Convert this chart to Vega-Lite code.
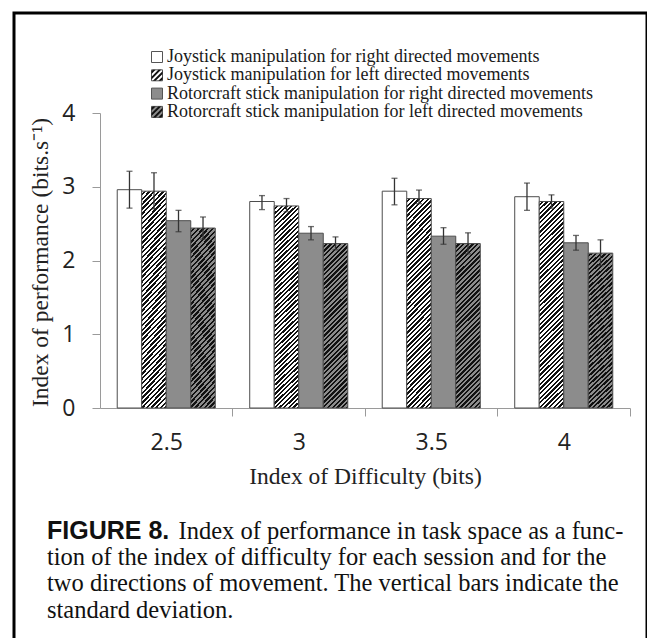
{
  "$schema": "https://vega.github.io/schema/vega-lite/v6.json",
  "usermeta": {"embedOptions": {"actions": false}},
  "autosize": "none",
  "padding": {"left": 14, "top": 13, "right": 0, "bottom": 0},
  "width": 633,
  "height": 627,
  "background": "white",
  "config": {"view": {"stroke": "#000", "strokeWidth": 3}},
  "title": {
    "text": "FIGURE 8.",
    "subtitle": [
      "tion of the index of difficulty for each session and for the",
      "two directions of movement. The vertical bars indicate the",
      "standard deviation."
    ],
    "orient": "bottom",
    "anchor": "start",
    "frame": "group",
    "offset": -121,
    "dx": 33,
    "baseline": "top",
    "font": "Liberation Sans",
    "fontSize": 25,
    "fontWeight": "bold",
    "color": "#111",
    "subtitleFont": "Liberation Serif",
    "subtitleFontSize": 24.5,
    "subtitleFontWeight": "normal",
    "subtitleColor": "#111",
    "subtitleLineHeight": 26.5,
    "subtitlePadding": 1.9
  },
  "data": {
    "values": [
      {"group": "2.5", "series": "Joystick manipulation for right directed movements", "value": 2.96, "lo": 2.71, "hi": 3.21},
      {"group": "2.5", "series": "Joystick manipulation for left directed movements", "value": 2.94, "lo": 2.7, "hi": 3.19},
      {"group": "2.5", "series": "Rotorcraft stick manipulation for right directed movements", "value": 2.54, "lo": 2.39, "hi": 2.68},
      {"group": "2.5", "series": "Rotorcraft stick manipulation for left directed movements", "value": 2.44, "lo": 2.29, "hi": 2.59},
      {"group": "3", "series": "Joystick manipulation for right directed movements", "value": 2.8, "lo": 2.69, "hi": 2.88},
      {"group": "3", "series": "Joystick manipulation for left directed movements", "value": 2.74, "lo": 2.66, "hi": 2.84},
      {"group": "3", "series": "Rotorcraft stick manipulation for right directed movements", "value": 2.37, "lo": 2.28, "hi": 2.46},
      {"group": "3", "series": "Rotorcraft stick manipulation for left directed movements", "value": 2.23, "lo": 2.145, "hi": 2.32},
      {"group": "3.5", "series": "Joystick manipulation for right directed movements", "value": 2.94, "lo": 2.755, "hi": 3.115},
      {"group": "3.5", "series": "Joystick manipulation for left directed movements", "value": 2.84, "lo": 2.77, "hi": 2.955},
      {"group": "3.5", "series": "Rotorcraft stick manipulation for right directed movements", "value": 2.33, "lo": 2.22, "hi": 2.445},
      {"group": "3.5", "series": "Rotorcraft stick manipulation for left directed movements", "value": 2.23, "lo": 2.09, "hi": 2.375},
      {"group": "4", "series": "Joystick manipulation for right directed movements", "value": 2.865, "lo": 2.68, "hi": 3.05},
      {"group": "4", "series": "Joystick manipulation for left directed movements", "value": 2.8, "lo": 2.71, "hi": 2.89},
      {"group": "4", "series": "Rotorcraft stick manipulation for right directed movements", "value": 2.24, "lo": 2.14, "hi": 2.34},
      {"group": "4", "series": "Rotorcraft stick manipulation for left directed movements", "value": 2.1, "lo": 1.93, "hi": 2.28}
    ]
  },
  "resolve": {"scale": {"fill": "independent"}, "legend": {"fill": "independent"}, "axis": {"x": "independent"}},
  "layer": [
    {
      "mark": {"type": "bar", "stroke": "#4d4d4d", "strokeWidth": 1},
      "encoding": {
        "x": {
          "field": "group", "type": "ordinal", "sort": ["2.5", "3", "3.5", "4"],
          "scale": {"range": [86, 616], "paddingInner": 0.26, "paddingOuter": 0.13},
          "axis": {
            "orient": "bottom",
            "title": "Index of Difficulty (bits)",
            "offset": -232,
            "labelAngle": 0,
            "grid": false,
            "domainColor": "#9a9a9a",
            "tickColor": "#9a9a9a",
            "tickSize": 8,
            "bandPosition": 1,
            "tickOffset": 17.2,
            "labelOffset": -17.2,
            "labelFont": "Open Sans",
            "labelFontSize": 23,
            "labelColor": "#222",
            "labelPadding": 15,
            "titleFont": "Liberation Serif",
            "titleFontSize": 23.5,
            "titleFontWeight": "normal",
            "titleColor": "#222",
            "titleX": 351,
            "titleY": 68,
            "titleBaseline": "middle",
            "titleAlign": "center"
          }
        },
        "xOffset": {
          "field": "series", "type": "nominal",
          "sort": ["Joystick manipulation for right directed movements", "Joystick manipulation for left directed movements", "Rotorcraft stick manipulation for right directed movements", "Rotorcraft stick manipulation for left directed movements"],
          "scale": {"paddingInner": 0, "paddingOuter": 0}
        },
        "y": {
          "field": "value", "type": "quantitative",
          "scale": {"domain": [0, 4], "range": [395, 100], "nice": false},
          "axis": {
            "title": "Index of performance (bits.s\u207b\u00b9)",
            "values": [0, 1, 2, 3, 4],
            "format": "d",
            "offset": -86,
            "grid": false,
            "domainColor": "#9a9a9a",
            "tickColor": "#9a9a9a",
            "tickSize": 8,
            "labelFont": "Open Sans",
            "labelFontSize": 23,
            "labelColor": "#222",
            "labelPadding": 17,
            "titleFont": "Liberation Serif",
            "titleFontSize": 23.5,
            "titleFontWeight": "normal",
            "titleColor": "#222",
            "titleAngle": 270,
            "titleX": -60,
            "titleY": 249,
            "titleBaseline": "middle",
            "titleAlign": "center"
          }
        },
        "fill": {
          "field": "series", "type": "nominal",
          "scale": {
            "domain": ["Joystick manipulation for right directed movements", "Joystick manipulation for left directed movements", "Rotorcraft stick manipulation for right directed movements", "Rotorcraft stick manipulation for left directed movements"],
            "range": ["#ffffff", "#ffffff", "#8c8c8c", "#8c8c8c"]
          },
          "legend": {
            "orient": "none",
            "legendX": 134,
            "legendY": 35,
            "title": null,
            "padding": 0,
            "symbolType": "square",
            "symbolSize": 121,
            "symbolStrokeWidth": 1,
            "symbolStrokeColor": "#555",
            "labelFont": "Liberation Serif",
            "labelFontSize": 18,
            "labelColor": "#1a1a1a",
            "labelOffset": 1,
            "labelLimit": 0,
            "rowPadding": 0.3
          },
          "condition": [
            {
              "test": "datum.series === 'Joystick manipulation for left directed movements'",
              "value": {
                "gradient": "linear", "x1": 0, "y1": 0, "x2": 0.1302, "y2": 1.103,
                "stops": [
                  {"offset":0,"color":"#fff"},{"offset":0.01,"color":"#fff"},{"offset":0.01,"color":"#111"},{"offset":0.02,"color":"#111"},
                  {"offset":0.02,"color":"#fff"},{"offset":0.03,"color":"#fff"},{"offset":0.03,"color":"#111"},{"offset":0.04,"color":"#111"},
                  {"offset":0.04,"color":"#fff"},{"offset":0.05,"color":"#fff"},{"offset":0.05,"color":"#111"},{"offset":0.06,"color":"#111"},
                  {"offset":0.06,"color":"#fff"},{"offset":0.07,"color":"#fff"},{"offset":0.07,"color":"#111"},{"offset":0.08,"color":"#111"},
                  {"offset":0.08,"color":"#fff"},{"offset":0.09,"color":"#fff"},{"offset":0.09,"color":"#111"},{"offset":0.1,"color":"#111"},
                  {"offset":0.1,"color":"#fff"},{"offset":0.11,"color":"#fff"},{"offset":0.11,"color":"#111"},{"offset":0.12,"color":"#111"},
                  {"offset":0.12,"color":"#fff"},{"offset":0.13,"color":"#fff"},{"offset":0.13,"color":"#111"},{"offset":0.14,"color":"#111"},
                  {"offset":0.14,"color":"#fff"},{"offset":0.15,"color":"#fff"},{"offset":0.15,"color":"#111"},{"offset":0.16,"color":"#111"},
                  {"offset":0.16,"color":"#fff"},{"offset":0.17,"color":"#fff"},{"offset":0.17,"color":"#111"},{"offset":0.18,"color":"#111"},
                  {"offset":0.18,"color":"#fff"},{"offset":0.19,"color":"#fff"},{"offset":0.19,"color":"#111"},{"offset":0.2,"color":"#111"},
                  {"offset":0.2,"color":"#fff"},{"offset":0.21,"color":"#fff"},{"offset":0.21,"color":"#111"},{"offset":0.22,"color":"#111"},
                  {"offset":0.22,"color":"#fff"},{"offset":0.23,"color":"#fff"},{"offset":0.23,"color":"#111"},{"offset":0.24,"color":"#111"},
                  {"offset":0.24,"color":"#fff"},{"offset":0.25,"color":"#fff"},{"offset":0.25,"color":"#111"},{"offset":0.26,"color":"#111"},
                  {"offset":0.26,"color":"#fff"},{"offset":0.27,"color":"#fff"},{"offset":0.27,"color":"#111"},{"offset":0.28,"color":"#111"},
                  {"offset":0.28,"color":"#fff"},{"offset":0.29,"color":"#fff"},{"offset":0.29,"color":"#111"},{"offset":0.3,"color":"#111"},
                  {"offset":0.3,"color":"#fff"},{"offset":0.31,"color":"#fff"},{"offset":0.31,"color":"#111"},{"offset":0.32,"color":"#111"},
                  {"offset":0.32,"color":"#fff"},{"offset":0.33,"color":"#fff"},{"offset":0.33,"color":"#111"},{"offset":0.34,"color":"#111"},
                  {"offset":0.34,"color":"#fff"},{"offset":0.35,"color":"#fff"},{"offset":0.35,"color":"#111"},{"offset":0.36,"color":"#111"},
                  {"offset":0.36,"color":"#fff"},{"offset":0.37,"color":"#fff"},{"offset":0.37,"color":"#111"},{"offset":0.38,"color":"#111"},
                  {"offset":0.38,"color":"#fff"},{"offset":0.39,"color":"#fff"},{"offset":0.39,"color":"#111"},{"offset":0.4,"color":"#111"},
                  {"offset":0.4,"color":"#fff"},{"offset":0.41,"color":"#fff"},{"offset":0.41,"color":"#111"},{"offset":0.42,"color":"#111"},
                  {"offset":0.42,"color":"#fff"},{"offset":0.43,"color":"#fff"},{"offset":0.43,"color":"#111"},{"offset":0.44,"color":"#111"},
                  {"offset":0.44,"color":"#fff"},{"offset":0.45,"color":"#fff"},{"offset":0.45,"color":"#111"},{"offset":0.46,"color":"#111"},
                  {"offset":0.46,"color":"#fff"},{"offset":0.47,"color":"#fff"},{"offset":0.47,"color":"#111"},{"offset":0.48,"color":"#111"},
                  {"offset":0.48,"color":"#fff"},{"offset":0.49,"color":"#fff"},{"offset":0.49,"color":"#111"},{"offset":0.5,"color":"#111"},
                  {"offset":0.5,"color":"#fff"},{"offset":0.51,"color":"#fff"},{"offset":0.51,"color":"#111"},{"offset":0.52,"color":"#111"},
                  {"offset":0.52,"color":"#fff"},{"offset":0.53,"color":"#fff"},{"offset":0.53,"color":"#111"},{"offset":0.54,"color":"#111"},
                  {"offset":0.54,"color":"#fff"},{"offset":0.55,"color":"#fff"},{"offset":0.55,"color":"#111"},{"offset":0.56,"color":"#111"},
                  {"offset":0.56,"color":"#fff"},{"offset":0.57,"color":"#fff"},{"offset":0.57,"color":"#111"},{"offset":0.58,"color":"#111"},
                  {"offset":0.58,"color":"#fff"},{"offset":0.59,"color":"#fff"},{"offset":0.59,"color":"#111"},{"offset":0.6,"color":"#111"},
                  {"offset":0.6,"color":"#fff"},{"offset":0.61,"color":"#fff"},{"offset":0.61,"color":"#111"},{"offset":0.62,"color":"#111"},
                  {"offset":0.62,"color":"#fff"},{"offset":0.63,"color":"#fff"},{"offset":0.63,"color":"#111"},{"offset":0.64,"color":"#111"},
                  {"offset":0.64,"color":"#fff"},{"offset":0.65,"color":"#fff"},{"offset":0.65,"color":"#111"},{"offset":0.66,"color":"#111"},
                  {"offset":0.66,"color":"#fff"},{"offset":0.67,"color":"#fff"},{"offset":0.67,"color":"#111"},{"offset":0.68,"color":"#111"},
                  {"offset":0.68,"color":"#fff"},{"offset":0.69,"color":"#fff"},{"offset":0.69,"color":"#111"},{"offset":0.7,"color":"#111"},
                  {"offset":0.7,"color":"#fff"},{"offset":0.71,"color":"#fff"},{"offset":0.71,"color":"#111"},{"offset":0.72,"color":"#111"},
                  {"offset":0.72,"color":"#fff"},{"offset":0.73,"color":"#fff"},{"offset":0.73,"color":"#111"},{"offset":0.74,"color":"#111"},
                  {"offset":0.74,"color":"#fff"},{"offset":0.75,"color":"#fff"},{"offset":0.75,"color":"#111"},{"offset":0.76,"color":"#111"},
                  {"offset":0.76,"color":"#fff"},{"offset":0.77,"color":"#fff"},{"offset":0.77,"color":"#111"},{"offset":0.78,"color":"#111"},
                  {"offset":0.78,"color":"#fff"},{"offset":0.79,"color":"#fff"},{"offset":0.79,"color":"#111"},{"offset":0.8,"color":"#111"},
                  {"offset":0.8,"color":"#fff"},{"offset":0.81,"color":"#fff"},{"offset":0.81,"color":"#111"},{"offset":0.82,"color":"#111"},
                  {"offset":0.82,"color":"#fff"},{"offset":0.83,"color":"#fff"},{"offset":0.83,"color":"#111"},{"offset":0.84,"color":"#111"},
                  {"offset":0.84,"color":"#fff"},{"offset":0.85,"color":"#fff"},{"offset":0.85,"color":"#111"},{"offset":0.86,"color":"#111"},
                  {"offset":0.86,"color":"#fff"},{"offset":0.87,"color":"#fff"},{"offset":0.87,"color":"#111"},{"offset":0.88,"color":"#111"},
                  {"offset":0.88,"color":"#fff"},{"offset":0.89,"color":"#fff"},{"offset":0.89,"color":"#111"},{"offset":0.9,"color":"#111"},
                  {"offset":0.9,"color":"#fff"},{"offset":0.91,"color":"#fff"},{"offset":0.91,"color":"#111"},{"offset":0.92,"color":"#111"},
                  {"offset":0.92,"color":"#fff"},{"offset":0.93,"color":"#fff"},{"offset":0.93,"color":"#111"},{"offset":0.94,"color":"#111"},
                  {"offset":0.94,"color":"#fff"},{"offset":0.95,"color":"#fff"},{"offset":0.95,"color":"#111"},{"offset":0.96,"color":"#111"},
                  {"offset":0.96,"color":"#fff"},{"offset":0.97,"color":"#fff"},{"offset":0.97,"color":"#111"},{"offset":0.98,"color":"#111"},
                  {"offset":0.98,"color":"#fff"},{"offset":0.99,"color":"#fff"},{"offset":0.99,"color":"#111"},{"offset":1,"color":"#111"}
                ]
              }
            },
            {
              "test": "datum.series === 'Rotorcraft stick manipulation for left directed movements'",
              "value": {
                "gradient": "linear", "x1": 0, "y1": 0, "x2": 0.1669, "y2": 1.123,
                "stops": [
                  {"offset":0,"color":"#8c8c8c"},{"offset":0.0125,"color":"#8c8c8c"},{"offset":0.0125,"color":"#111"},{"offset":0.025,"color":"#111"},
                  {"offset":0.025,"color":"#8c8c8c"},{"offset":0.0375,"color":"#8c8c8c"},{"offset":0.0375,"color":"#111"},{"offset":0.05,"color":"#111"},
                  {"offset":0.05,"color":"#8c8c8c"},{"offset":0.0625,"color":"#8c8c8c"},{"offset":0.0625,"color":"#111"},{"offset":0.075,"color":"#111"},
                  {"offset":0.075,"color":"#8c8c8c"},{"offset":0.0875,"color":"#8c8c8c"},{"offset":0.0875,"color":"#111"},{"offset":0.1,"color":"#111"},
                  {"offset":0.1,"color":"#8c8c8c"},{"offset":0.1125,"color":"#8c8c8c"},{"offset":0.1125,"color":"#111"},{"offset":0.125,"color":"#111"},
                  {"offset":0.125,"color":"#8c8c8c"},{"offset":0.1375,"color":"#8c8c8c"},{"offset":0.1375,"color":"#111"},{"offset":0.15,"color":"#111"},
                  {"offset":0.15,"color":"#8c8c8c"},{"offset":0.1625,"color":"#8c8c8c"},{"offset":0.1625,"color":"#111"},{"offset":0.175,"color":"#111"},
                  {"offset":0.175,"color":"#8c8c8c"},{"offset":0.1875,"color":"#8c8c8c"},{"offset":0.1875,"color":"#111"},{"offset":0.2,"color":"#111"},
                  {"offset":0.2,"color":"#8c8c8c"},{"offset":0.2125,"color":"#8c8c8c"},{"offset":0.2125,"color":"#111"},{"offset":0.225,"color":"#111"},
                  {"offset":0.225,"color":"#8c8c8c"},{"offset":0.2375,"color":"#8c8c8c"},{"offset":0.2375,"color":"#111"},{"offset":0.25,"color":"#111"},
                  {"offset":0.25,"color":"#8c8c8c"},{"offset":0.2625,"color":"#8c8c8c"},{"offset":0.2625,"color":"#111"},{"offset":0.275,"color":"#111"},
                  {"offset":0.275,"color":"#8c8c8c"},{"offset":0.2875,"color":"#8c8c8c"},{"offset":0.2875,"color":"#111"},{"offset":0.3,"color":"#111"},
                  {"offset":0.3,"color":"#8c8c8c"},{"offset":0.3125,"color":"#8c8c8c"},{"offset":0.3125,"color":"#111"},{"offset":0.325,"color":"#111"},
                  {"offset":0.325,"color":"#8c8c8c"},{"offset":0.3375,"color":"#8c8c8c"},{"offset":0.3375,"color":"#111"},{"offset":0.35,"color":"#111"},
                  {"offset":0.35,"color":"#8c8c8c"},{"offset":0.3625,"color":"#8c8c8c"},{"offset":0.3625,"color":"#111"},{"offset":0.375,"color":"#111"},
                  {"offset":0.375,"color":"#8c8c8c"},{"offset":0.3875,"color":"#8c8c8c"},{"offset":0.3875,"color":"#111"},{"offset":0.4,"color":"#111"},
                  {"offset":0.4,"color":"#8c8c8c"},{"offset":0.4125,"color":"#8c8c8c"},{"offset":0.4125,"color":"#111"},{"offset":0.425,"color":"#111"},
                  {"offset":0.425,"color":"#8c8c8c"},{"offset":0.4375,"color":"#8c8c8c"},{"offset":0.4375,"color":"#111"},{"offset":0.45,"color":"#111"},
                  {"offset":0.45,"color":"#8c8c8c"},{"offset":0.4625,"color":"#8c8c8c"},{"offset":0.4625,"color":"#111"},{"offset":0.475,"color":"#111"},
                  {"offset":0.475,"color":"#8c8c8c"},{"offset":0.4875,"color":"#8c8c8c"},{"offset":0.4875,"color":"#111"},{"offset":0.5,"color":"#111"},
                  {"offset":0.5,"color":"#8c8c8c"},{"offset":0.5125,"color":"#8c8c8c"},{"offset":0.5125,"color":"#111"},{"offset":0.525,"color":"#111"},
                  {"offset":0.525,"color":"#8c8c8c"},{"offset":0.5375,"color":"#8c8c8c"},{"offset":0.5375,"color":"#111"},{"offset":0.55,"color":"#111"},
                  {"offset":0.55,"color":"#8c8c8c"},{"offset":0.5625,"color":"#8c8c8c"},{"offset":0.5625,"color":"#111"},{"offset":0.575,"color":"#111"},
                  {"offset":0.575,"color":"#8c8c8c"},{"offset":0.5875,"color":"#8c8c8c"},{"offset":0.5875,"color":"#111"},{"offset":0.6,"color":"#111"},
                  {"offset":0.6,"color":"#8c8c8c"},{"offset":0.6125,"color":"#8c8c8c"},{"offset":0.6125,"color":"#111"},{"offset":0.625,"color":"#111"},
                  {"offset":0.625,"color":"#8c8c8c"},{"offset":0.6375,"color":"#8c8c8c"},{"offset":0.6375,"color":"#111"},{"offset":0.65,"color":"#111"},
                  {"offset":0.65,"color":"#8c8c8c"},{"offset":0.6625,"color":"#8c8c8c"},{"offset":0.6625,"color":"#111"},{"offset":0.675,"color":"#111"},
                  {"offset":0.675,"color":"#8c8c8c"},{"offset":0.6875,"color":"#8c8c8c"},{"offset":0.6875,"color":"#111"},{"offset":0.7,"color":"#111"},
                  {"offset":0.7,"color":"#8c8c8c"},{"offset":0.7125,"color":"#8c8c8c"},{"offset":0.7125,"color":"#111"},{"offset":0.725,"color":"#111"},
                  {"offset":0.725,"color":"#8c8c8c"},{"offset":0.7375,"color":"#8c8c8c"},{"offset":0.7375,"color":"#111"},{"offset":0.75,"color":"#111"},
                  {"offset":0.75,"color":"#8c8c8c"},{"offset":0.7625,"color":"#8c8c8c"},{"offset":0.7625,"color":"#111"},{"offset":0.775,"color":"#111"},
                  {"offset":0.775,"color":"#8c8c8c"},{"offset":0.7875,"color":"#8c8c8c"},{"offset":0.7875,"color":"#111"},{"offset":0.8,"color":"#111"},
                  {"offset":0.8,"color":"#8c8c8c"},{"offset":0.8125,"color":"#8c8c8c"},{"offset":0.8125,"color":"#111"},{"offset":0.825,"color":"#111"},
                  {"offset":0.825,"color":"#8c8c8c"},{"offset":0.8375,"color":"#8c8c8c"},{"offset":0.8375,"color":"#111"},{"offset":0.85,"color":"#111"},
                  {"offset":0.85,"color":"#8c8c8c"},{"offset":0.8625,"color":"#8c8c8c"},{"offset":0.8625,"color":"#111"},{"offset":0.875,"color":"#111"},
                  {"offset":0.875,"color":"#8c8c8c"},{"offset":0.8875,"color":"#8c8c8c"},{"offset":0.8875,"color":"#111"},{"offset":0.9,"color":"#111"},
                  {"offset":0.9,"color":"#8c8c8c"},{"offset":0.9125,"color":"#8c8c8c"},{"offset":0.9125,"color":"#111"},{"offset":0.925,"color":"#111"},
                  {"offset":0.925,"color":"#8c8c8c"},{"offset":0.9375,"color":"#8c8c8c"},{"offset":0.9375,"color":"#111"},{"offset":0.95,"color":"#111"},
                  {"offset":0.95,"color":"#8c8c8c"},{"offset":0.9625,"color":"#8c8c8c"},{"offset":0.9625,"color":"#111"},{"offset":0.975,"color":"#111"},
                  {"offset":0.975,"color":"#8c8c8c"},{"offset":0.9875,"color":"#8c8c8c"},{"offset":0.9875,"color":"#111"},{"offset":1,"color":"#111"}
                ]
              }
            }
          ]
        }
      }
    },
    {
      "mark": {"type": "rule", "color": "#333", "strokeWidth": 1.3},
      "encoding": {
        "x": {"field": "group", "type": "ordinal", "sort": ["2.5", "3", "3.5", "4"], "axis": null},
        "xOffset": {"field": "series", "type": "nominal", "sort": ["Joystick manipulation for right directed movements", "Joystick manipulation for left directed movements", "Rotorcraft stick manipulation for right directed movements", "Rotorcraft stick manipulation for left directed movements"]},
        "y": {"field": "lo", "type": "quantitative"},
        "y2": {"field": "hi"}
      }
    },
    {
      "mark": {"type": "tick", "color": "#333", "thickness": 1.3, "size": 6},
      "encoding": {
        "x": {"field": "group", "type": "ordinal", "sort": ["2.5", "3", "3.5", "4"], "axis": null},
        "xOffset": {"field": "series", "type": "nominal", "sort": ["Joystick manipulation for right directed movements", "Joystick manipulation for left directed movements", "Rotorcraft stick manipulation for right directed movements", "Rotorcraft stick manipulation for left directed movements"]},
        "y": {"field": "lo", "type": "quantitative"}
      }
    },
    {
      "mark": {"type": "tick", "color": "#333", "thickness": 1.3, "size": 6},
      "encoding": {
        "x": {"field": "group", "type": "ordinal", "sort": ["2.5", "3", "3.5", "4"], "axis": null},
        "xOffset": {"field": "series", "type": "nominal", "sort": ["Joystick manipulation for right directed movements", "Joystick manipulation for left directed movements", "Rotorcraft stick manipulation for right directed movements", "Rotorcraft stick manipulation for left directed movements"]},
        "y": {"field": "hi", "type": "quantitative"}
      }
    },
    {
      "mark": {"type": "point", "filled": true, "size": 0, "strokeWidth": 0},
      "encoding": {
        "x": {
          "field": "group", "type": "ordinal", "sort": ["2.5", "3", "3.5", "4"],
          "axis": {
            "orient": "bottom",
            "title": "Index of performance in task space as a func-",
            "labels": false,
            "ticks": false,
            "domain": false,
            "grid": false,
            "offset": -232,
            "titleFont": "Liberation Serif",
            "titleFontSize": 24.5,
            "titleFontWeight": "normal",
            "titleColor": "#111",
            "titleAnchor": "start",
            "titleAlign": "left",
            "titleBaseline": "alphabetic",
            "titleX": 164,
            "titleY": 130.75
          }
        },
        "fill": {
          "field": "series", "type": "nominal",
          "scale": {
            "domain": ["Joystick manipulation for right directed movements", "Joystick manipulation for left directed movements", "Rotorcraft stick manipulation for right directed movements", "Rotorcraft stick manipulation for left directed movements"],
            "range": ["transparent", "#111111", "transparent", "#111111"]
          },
          "legend": {
            "orient": "none",
            "legendX": 134,
            "legendY": 35,
            "zindex": 2,
            "title": null,
            "padding": 0,
            "symbolType": "M-1,-0.75L-0.75,-1L-0.25,-1L-1,-0.25Z M-1,0.25L0.25,-1L0.75,-1L-1,0.75Z M-0.75,1L1,-0.75L1,-0.25L-0.25,1Z M0.25,1L1,0.25L1,0.75L0.75,1Z",
            "symbolSize": 121,
            "symbolStrokeWidth": 1,
            "symbolStrokeColor": "transparent",
            "symbolOpacity": 1,
            "labelFont": "Liberation Serif",
            "labelFontSize": 18,
            "labelColor": "transparent",
            "labelExpr": "'\u200b'",
            "labelOffset": 1,
            "labelLimit": 0,
            "rowPadding": 0.3
          }
        }
      }
    }
  ]
}
